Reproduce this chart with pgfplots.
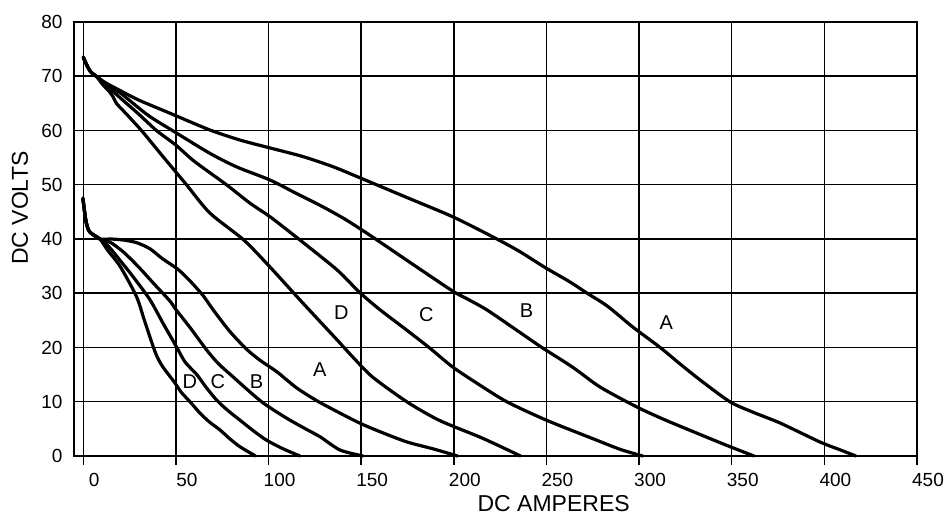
\documentclass[border=0pt]{standalone}
\usepackage{fontspec}
\setmainfont{Liberation Sans}
\usepackage{pgfplots}
\pgfplotsset{compat=1.18}
\begin{document}
\begin{tikzpicture}
\useasboundingbox (-74pt,-60pt) rectangle (876pt,456pt);
\begin{axis}[
  at={(0,0)}, anchor=south west,
  scale only axis, width=843pt, height=434pt,
  xmin=-5, xmax=450, ymin=0, ymax=80,
  xtick={0,50,...,450}, ytick={0,10,...,80},
  grid=major, grid style={black, line width=1.5pt},
  axis line style={black, line width=1.8pt},
  tick align=outside, tickpos=left,
  major tick length=9pt,
  xtick style={black, line width=1.5pt},
  ytick style={draw=none},
  /pgf/number format/assume math mode=true,
  tick label style={font=\fontsize{19}{21}\selectfont},
  xticklabel style={xshift=11pt, yshift=-5pt},
  yticklabel style={xshift=1pt},
  every axis x label/.style={at={(rel axis cs:0.569,-0.1106)}, anchor=center},
  every axis y label/.style={at={(rel axis cs:-0.064,0.571)}, rotate=90, anchor=center},
  label style={font=\fontsize{23}{25}\selectfont},
  xlabel={DC AMPERES}, ylabel={DC VOLTS},
  cycle list={{black, solid}},
  every axis plot/.append style={black, line width=3.2pt, line join=round, line cap=round, mark=none, smooth, tension=0.45},
  clip=false
]
% Upper group
\addplot coordinates {(0,73.5)(2,72)(4,70.8)(7,70)(12,68.8)(19.7,67.4)(30,65.6)(46.7,63.2)(68.3,60.1)(85,58.2)(100.6,56.8)(118.5,55.2)(135,53.3)(149.2,51.3)(175,47.6)(199.4,44.1)(221,40.4)(235,37.8)(249,34.8)(262.6,32.1)(272,30)(283,27.6)(296.5,23.8)(311,20.1)(322,17)(333,14)(349,10)(362,8)(376,6.1)(397.5,2.6)(408,1.2)(417,0)};
\addplot coordinates {(0,73.5)(2,72)(4,70.8)(7,70)(12,68.6)(19.7,67)(35,62.8)(50,59.6)(68.3,55.8)(82.7,53.3)(100.6,50.9)(115,48.4)(129.5,45.9)(142,43.5)(156,40.4)(178,35.3)(199.4,30.4)(207,29.0)(218,26.9)(236,22.7)(248,19.9)(264,16.4)(279,12.7)(299,9.0)(313,6.8)(327,4.8)(347,2.0)(362,0)};
\addplot coordinates {(0,73.5)(2,72)(4,70.8)(7,70)(12,68.5)(20,66)(30,63)(39.5,60)(50,57.3)(60,54.3)(77.3,50)(90,46.6)(100.8,44.1)(117,39.8)(137,34.3)(149,30.2)(160,27)(174.6,23.2)(187,19.9)(199.4,16.4)(213,13.3)(228.6,10)(250,6.6)(275,3.2)(290,1.2)(302,0)};
\addplot coordinates {(0,73.5)(2,72)(4,70.8)(7,70)(10.7,68.4)(14,67.2)(16.1,66.2)(17.9,65)(22,63.5)(31.4,60)(43,55.2)(55.7,50)(68.3,44.8)(86.7,39.8)(100.6,34.9)(118.5,28.2)(137,21.4)(145.6,18.2)(156,14.6)(174.6,10)(192,6.6)(214,3.5)(228,1.3)(236,0)};
% Lower group
\addplot coordinates {(-0.2,47.5)(0.8,44.8)(1.7,42.9)(3.5,41.3)(9,40)(15,40)(22,39.8)(29,39.3)(36,38.2)(43,36.3)(50.8,34.5)(57,32.5)(64.6,29.6)(70,27)(79,23)(88.4,19.6)(96,17.5)(104.6,15.5)(115,12.6)(126,10.2)(138.6,7.9)(149,6.1)(160,4.5)(174.6,2.6)(189,1.3)(202,0)};
\addplot coordinates {(-0.2,47.5)(0.8,44.8)(1.7,42.9)(3.5,41.3)(9,40)(15,39.3)(22,37.5)(30,34.8)(38,31.8)(46.7,28.6)(50,27)(57.8,23.6)(66.7,19.5)(73,17)(80.8,14.6)(90,11.8)(97,9.8)(104,8.2)(111.6,6.6)(120,5)(128,3.5)(138.6,1.1)(151,0)};
\addplot coordinates {(-0.2,47.5)(0.8,44.8)(1.7,42.9)(3.5,41.3)(9,40)(14,38.5)(20,36)(27,33)(36,28.8)(43,24.5)(50.5,20)(55,17.3)(61.3,15)(66,12.8)(72,10.3)(78,8.4)(84.6,6.6)(92,4.6)(99,2.9)(108,1.3)(117,0)};
\addplot coordinates {(-0.2,47.5)(0.8,44.8)(1.7,42.9)(3.5,41.3)(9,40)(13,38)(20,34.9)(28.7,29.4)(33,25)(37.8,20.1)(40,18.2)(43,16.4)(49.4,13.5)(53,11.7)(57.6,10)(63,7.9)(68,6.3)(73.8,4.8)(79,3.2)(84.6,1.7)(93,0)};
% Curve labels
\begin{scope}[every node/.style={font=\fontsize{20}{22}\selectfont, inner sep=0pt}]
\node at (axis cs:139.3,26.4) {D};
\node at (axis cs:185.2,26.0) {C};
\node at (axis cs:239.2,26.8) {B};
\node at (axis cs:314.7,24.5) {A};
\node at (axis cs:57.5,13.7) {D};
\node at (axis cs:72.7,13.7) {C};
\node at (axis cs:93.5,13.7) {B};
\node at (axis cs:127.6,15.9) {A};
\end{scope}
\end{axis}
\end{tikzpicture}
\end{document}
